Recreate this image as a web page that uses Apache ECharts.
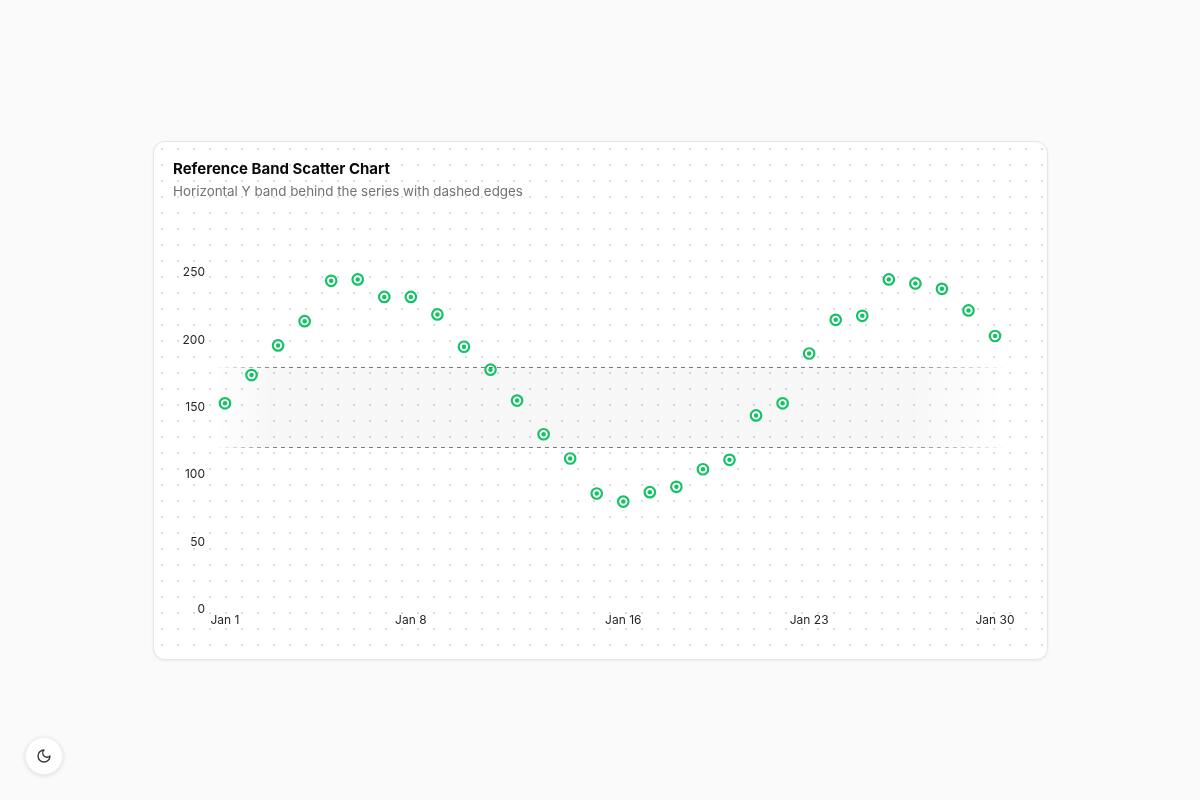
<!DOCTYPE html>
<html>
<head>
<meta charset="utf-8">
<script src="https://cdn.jsdelivr.net/npm/echarts@6/dist/echarts.min.js"></script>
<style>
  html, body { margin: 0; padding: 0; width: 1200px; height: 800px; background: #fafafa; font-family: Inter, sans-serif; overflow: hidden; }
  #card { position: absolute; left: 153px; top: 141px; width: 893px; height: 517px; background-color: #fff;
    background-image: radial-gradient(circle, #dcdcdc 1px, transparent 1.2px); background-size: 16px 16px; background-position: 0 -1px;
    border: 1px solid #e6e6e6; border-radius: 12px; box-shadow: 0 1px 3px rgba(0,0,0,0.06); }
  #chart { position: absolute; left: 0; top: 0; width: 1200px; height: 800px; }
  #btn { position: absolute; left: 25px; top: 737px; width: 38px; height: 38px; border-radius: 50%; background: #fff;
    box-shadow: 0 1px 4px rgba(0,0,0,0.12); border: 1px solid #eee; box-sizing: border-box; display: flex; align-items: center; justify-content: center; }
</style>
</head>
<body>
<div id="card"></div>
<div id="chart"></div>
<div id="btn"><svg width="16" height="16" viewBox="0 0 24 24" fill="none" stroke="#333" stroke-width="2" stroke-linecap="round" stroke-linejoin="round"><path d="M12 3a6 6 0 0 0 9 9 9 9 0 1 1-9-9Z"/></svg></div>
<script>
const days = [1,2,3,4,5,6,7,8,9,10,11,12,13,14,15,16,17,18,19,20,21,22,23,24,25,26,27,28,29,30];
const values = [153,174,196,214,244,245,232,232,219,195,178,155,130,112,86,80,87,91,104,111,144,153,190,215,218,245,242,238,222,203];
const xTickDays = [1,8,16,23,30];
const yTicks = [0,50,100,150,200,250];
const bandLow = 120;
const bandHigh = 180;
const titleText = 'Reference Band Scatter Chart';
const subtitleText = 'Horizontal Y band behind the series with dashed edges';

const green = '#16c266';
const points = days.map((d, i) => [d, values[i]]);

const bandFill = new echarts.graphic.LinearGradient(0, 0, 1, 0, [
  { offset: 0, color: 'rgba(0,0,0,0)' },
  { offset: 0.07, color: 'rgba(0,0,0,0.03)' },
  { offset: 0.88, color: 'rgba(0,0,0,0.03)' },
  { offset: 1, color: 'rgba(0,0,0,0)' }
]);
const edgeColor = new echarts.graphic.LinearGradient(0, 0, 1, 0, [
  { offset: 0, color: 'rgba(110,110,110,0)' },
  { offset: 0.08, color: 'rgba(110,110,110,0.9)' },
  { offset: 0.86, color: 'rgba(110,110,110,0.9)' },
  { offset: 1, color: 'rgba(110,110,110,0.05)' }
]);

const chart = echarts.init(document.getElementById('chart'));
chart.setOption({
  animation: false,
  title: {
    text: titleText,
    subtext: subtitleText,
    left: 168, top: 157, itemGap: 8,
    textStyle: { fontFamily: 'Inter', fontSize: 15, fontWeight: 700, color: '#0a0a0a' },
    subtextStyle: { fontFamily: 'Inter', fontSize: 13.4, color: '#737373' }
  },
  grid: { left: 217, right: 197, top: 272.7, bottom: 190.7, containLabel: false },
  xAxis: {
    type: 'value', min: 0.7, max: 30.3,
    axisLine: { show: false }, axisTick: { show: false }, splitLine: { show: false },
    axisLabel: {
      customValues: xTickDays, margin: 5,
      formatter: v => 'Jan ' + v,
      fontFamily: 'Inter', fontSize: 12, color: '#262626'
    }
  },
  yAxis: {
    type: 'value', min: 0, max: 250, interval: 50,
    axisLine: { show: false }, axisTick: { show: false }, splitLine: { show: false },
    axisLabel: { margin: 12, fontFamily: 'Inter', fontSize: 12, color: '#262626',
      customValues: yTicks }
  },
  series: [
    {
      type: 'scatter', data: points, symbol: 'circle', symbolSize: 10.5, z: 3,
      itemStyle: { color: '#fff', borderColor: green, borderWidth: 2.2, opacity: 1 },
      markArea: {
        silent: true,
        itemStyle: { color: bandFill },
        data: [[{ yAxis: bandLow }, { yAxis: bandHigh }]]
      },
      markLine: {
        silent: true, symbol: 'none', label: { show: false },
        lineStyle: { color: edgeColor, type: [4, 4], width: 1 },
        data: [{ yAxis: bandLow }, { yAxis: bandHigh }]
      }
    },
    {
      type: 'scatter', data: points, symbol: 'circle', symbolSize: 4.5, z: 4,
      itemStyle: { color: green, opacity: 1 }
    }
  ]
});
</script>
</body>
</html>
